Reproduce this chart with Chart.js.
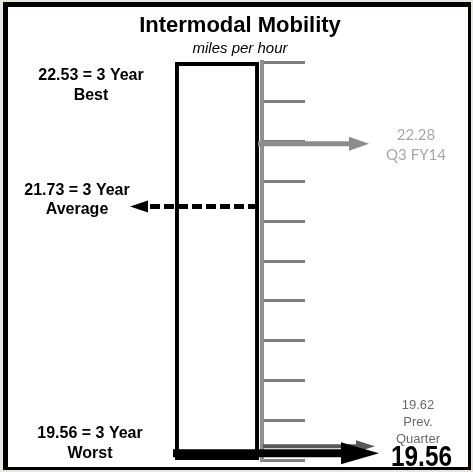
<!DOCTYPE html>
<html>
<head>
<meta charset="utf-8">
<script src="https://cdn.jsdelivr.net/npm/chart.js@4.4.1/dist/chart.umd.min.js"></script>
<style>
    html, body { margin: 0; padding: 0; background: #e8e6df; }
    #wrap { width: 473px; height: 472px; }
</style>
</head>
<body>
<div id="wrap"><canvas id="mobility"></canvas></div>
<script>
const titleText = 'Intermodal Mobility';
const subtitleText = 'miles per hour';
const categories = ['Intermodal Mobility'];
const barRange = [19.5, 23.0];
const tickValues = [19.5, 19.85, 20.2, 20.55, 20.9, 21.25, 21.6, 21.95, 22.3, 22.65, 23.0];
const bestValue = 22.53;
const averageValue = 21.73;
const worstValue = 19.56;
const currentValue = 19.56;
const q3Fy14Value = 22.28;
const prevQuarterValue = 19.62;

const sans = '"Liberation Sans", Arial, sans-serif';

function drawArrow(ctx, x0, x1, y, width, headLen, headHalf, color, dash) {
    const dir = Math.sign(x1 - x0);
    const xb = x1 - dir * headLen;
    ctx.save();
    ctx.strokeStyle = color;
    ctx.fillStyle = color;
    ctx.lineWidth = width;
    if (dash)
        ctx.setLineDash(dash);
    ctx.beginPath();
    ctx.moveTo(x0, y);
    ctx.lineTo(xb, y);
    ctx.stroke();
    ctx.setLineDash([]);
    ctx.beginPath();
    ctx.moveTo(x1, y);
    ctx.lineTo(xb, y - headHalf);
    ctx.lineTo(xb, y + headHalf);
    ctx.closePath();
    ctx.fill();
    ctx.restore();
}

function drawLines(ctx, lines, x, y, step) {
    lines.forEach((t, i) => ctx.fillText(t, x, y + i * step));
}

const infographic = {
    id: 'infographic',
    beforeDraw(chart) {
        const ctx = chart.ctx;
        ctx.save();
        ctx.fillStyle = '#e8e6df';
        ctx.fillRect(0, 0, chart.width, chart.height);
        ctx.fillStyle = '#ffffff';
        ctx.fillRect(3, 2, 468, 468);
        ctx.fillStyle = '#000000';
        ctx.fillRect(3, 2, 5, 468);
        ctx.fillRect(3, 2, 468, 5);
        ctx.fillRect(468, 2, 3, 468);
        ctx.fillRect(3, 467, 468, 3);
        ctx.restore();
    },
    afterDraw(chart) {
        const ctx = chart.ctx;
        const area = chart.chartArea;
        const y = chart.scales.y;

        // title
        ctx.save();
        ctx.textAlign = 'center';
        ctx.fillStyle = '#000';
        ctx.font = 'bold 22px ' + sans;
        ctx.fillText(titleText, 240, 32);
        ctx.font = 'italic 15px ' + sans;
        ctx.fillText(subtitleText, 240, 53);

        // arrows
        const yQ3 = y.getPixelForValue(q3Fy14Value);
        const yAvg = y.getPixelForValue(averageValue);
        const yPrev = y.getPixelForValue(prevQuarterValue);
        const yCur = y.getPixelForValue(currentValue);

        drawArrow(ctx, area.right - 4, area.right + 107, yQ3, 5, 20, 7, '#8c8c8c');
        drawArrow(ctx, area.right - 4, area.left - 42, yAvg, 5, 18, 6, '#000', [10, 4]);
        drawArrow(ctx, area.right + 1, area.right + 113, yPrev, 4, 19, 6, '#595959');
        drawArrow(ctx, area.left + 1, area.right + 117, yCur, 8, 38, 11, '#000');

        // left labels
        ctx.font = 'bold 16px ' + sans;
        ctx.fillStyle = '#000';
        drawLines(ctx, [bestValue.toFixed(2) + ' = 3 Year', 'Best'], 91, area.top + 18, 20);
        drawLines(ctx, [averageValue.toFixed(2) + ' = 3 Year', 'Average'], 77, yAvg - 11, 19);
        drawLines(ctx, [worstValue.toFixed(2) + ' = 3 Year', 'Worst'], 90, area.bottom - 22, 20);

        // right labels
        ctx.font = '15px Lato, "Open Sans", sans-serif';
        ctx.fillStyle = '#a8a8a8';
        drawLines(ctx, [q3Fy14Value.toFixed(2), 'Q3 FY14'], 416, yQ3 - 4, 20);

        ctx.font = '13px ' + sans;
        ctx.fillStyle = '#6b6b6b';
        drawLines(ctx, [prevQuarterValue.toFixed(2), 'Prev.', 'Quarter'], 418, yPrev - 37, 17);

        // current value, condensed bold
        ctx.textAlign = 'left';
        ctx.font = 'bold 30px ' + sans;
        ctx.fillStyle = '#000';
        const txt = currentValue.toFixed(2);
        const w = ctx.measureText(txt).width;
        ctx.translate(391, 466);
        ctx.scale(61 / w, 1);
        ctx.fillText(txt, 0, 0);
        ctx.restore();
    }
};

new Chart(document.getElementById('mobility'), {
    type: 'bar',
    data: {
        labels: categories,
        datasets: [{
            data: [barRange],
            backgroundColor: '#ffffff',
            borderColor: '#000000',
            borderWidth: 4,
            borderSkipped: false,
            barPercentage: 0.934,
            categoryPercentage: 1
        }]
    },
    options: {
        responsive: true,
        maintainAspectRatio: false,
        animation: false,
        devicePixelRatio: 1,
        layout: { padding: { left: 172, right: 161, top: 62, bottom: 12 } },
        plugins: {
            legend: { display: false },
            tooltip: { enabled: false },
            title: { display: false }
        },
        scales: {
            x: { display: false },
            y: {
                position: 'right',
                min: barRange[0],
                max: barRange[1],
                afterBuildTicks: function (scale) {
                    scale.ticks = tickValues.map(v => ({ value: v }));
                },
                afterFit: function (scale) {
                    scale.width = 50;
                },
                ticks: { display: false },
                grid: {
                    drawOnChartArea: false,
                    drawTicks: true,
                    tickLength: 43,
                    color: '#7f7f7f',
                    lineWidth: 3
                },
                border: { display: true, color: '#8f8f8f', width: 4 }
            }
        }
    },
    plugins: [infographic]
});
</script>
</body>
</html>
